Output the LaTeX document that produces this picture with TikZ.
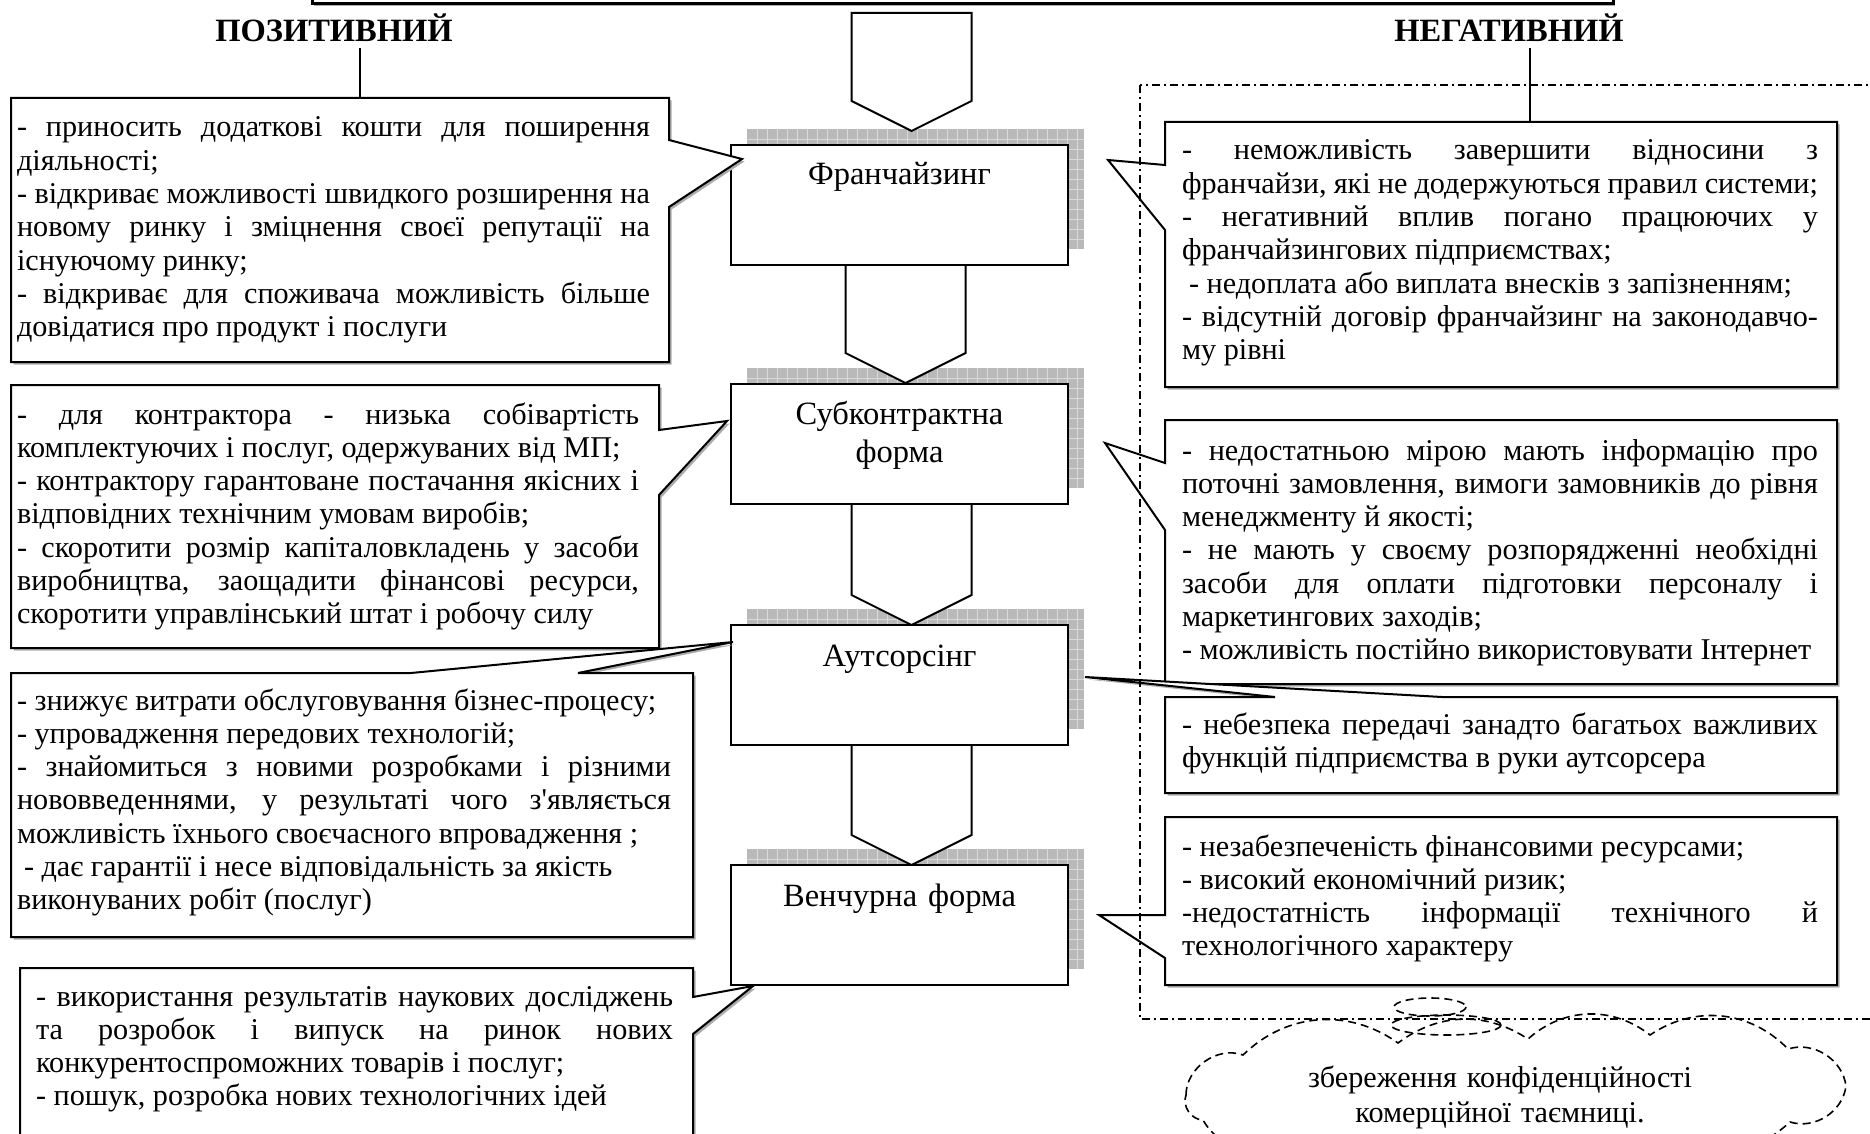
\documentclass[tikz,border=0pt]{standalone}
\usepackage{fontspec}
\setmainfont{Liberation Serif}
\usetikzlibrary{calc,shadows}
\pgfdeclarelayer{back}
\pgfdeclarelayer{middle}
\pgfsetlayers{back,middle,main}

% a fully justified line of a text block
\newcommand\jline[1]{{\spaceskip=0pt\xspaceskip=0pt\makebox[\hsize][s]{#1}}}

% hatched shadow behind a form box (shifted right and up)
\newcommand\formshadow[1]{%
  \begin{scope}[shift={($(#1.north west)+(16,-16)$)}]
    \fill[shadowfill] (0,0) rectangle (337,120);
    \foreach \k in {1,...,33} \draw[shadowgrid] (10*\k,0) -- (10*\k,120);
    \foreach \k in {1,...,11} \draw[shadowgrid] (0,10*\k) -- (337,10*\k);
  \end{scope}}

% downward block arrow from a top centre point to its tip
\newcommand\blockarrow[2]{%
  \draw[barrow] ($(#1)+(-60,0)$) -- ($(#2)+(-60,-30)$) -- (#2)
    -- ($(#2)+(60,-30)$) -- ($(#1)+(60,0)$);}

\begin{document}
\begin{tikzpicture}[x=1pt,y=-1pt,
  every node/.style={inner sep=0pt, outer sep=0pt},
  formbox/.style={draw, line width=2.5pt, fill=white,
    minimum width=337pt, minimum height=120pt, anchor=north west},
  formtext/.style={font=\fontsize{32.5}{38}\selectfont, align=center,
    text width=330pt, anchor=base},
  shadowfill/.style={fill=gray!55},
  shadowgrid/.style={draw=gray!30, line width=0.8pt},
  callout/.style={draw, line width=2pt, fill=white, line join=miter,
    drop shadow={shadow xshift=2.5pt, shadow yshift=-2.5pt, fill=gray!65, opacity=1}},
  bodytext/.style={font=\fontsize{30.2}{33.3}\selectfont, align=justify, anchor=base west},
  barrow/.style={draw, line width=2pt, fill=white, line join=miter},
  head/.style={font=\fontsize{32.5}{36}\selectfont\bfseries, anchor=base},
  conn/.style={line width=1.6pt},
  dashdot/.style={line width=1.5pt, dash pattern=on 8pt off 4pt on 2pt off 4pt},
  cloudline/.style={line width=1.6pt, dash pattern=on 8pt off 5pt},
]
\useasboundingbox (0,0) rectangle (1870,1134);
\clip (0,0) rectangle (1870,1134);

% frame running out of the top edge
\node[draw, line width=3pt, minimum width=1301pt, minimum height=60pt,
  anchor=south west, fill=white,
  drop shadow={shadow xshift=2pt, shadow yshift=-2.5pt, fill=gray!65, opacity=1}]
  (top) at (312,4) {};

% the four forms
\node[formbox] (f1) at (731,145) {};
\node[formbox] (f2) at (731,384) {};
\node[formbox] (f3) at (731,625) {};
\node[formbox] (f4) at (731,865) {};
\node[formtext] (t1) at ($(f1.north)+(0,40)$) {Франчайзинг};
\node[formtext] (t2) at ($(f2.north)+(0,40)$) {Субконтрактна\\форма};
\node[formtext] (t3) at ($(f3.north)+(0,41)$) {Аутсорсінг};
\node[formtext] (t4) at ($(f4.north)+(0,41)$) {Венчурна форма};

\begin{pgfonlayer}{back}
  \formshadow{f1}
  \formshadow{f2}
  \formshadow{f3}
  \formshadow{f4}
\end{pgfonlayer}

\begin{pgfonlayer}{middle}
  \coordinate (a0) at ($(top.south)+(-51,9)$);
  \draw[barrow] ($(a0)+(-60,0)$) -- ($(a0)+(60,0)$) -- ($(a0)+(60,88)$)
    -- ($(a0)+(0,118)$) -- ($(a0)+(-60,88)$) -- cycle;
  \coordinate (a1s) at ($(f1.south)+(6,0)$);
  \coordinate (a1e) at ($(f2.north)+(6,-1)$);
  \coordinate (a2s) at ($(f2.south)+(12,0)$);
  \coordinate (a2e) at ($(f3.north)+(12,0)$);
  \coordinate (a3s) at ($(f3.south)+(12,0)$);
  \coordinate (a3e) at ($(f4.north)+(12,0)$);
  \blockarrow{a1s}{a1e}
  \blockarrow{a2s}{a2e}
  \blockarrow{a3s}{a3e}
\end{pgfonlayer}

% headings
\node[head] (pos) at (334,42) {ПОЗИТИВНИЙ};
\node[head] (neg) at (1509,42) {НЕГАТИВНИЙ};

% callouts, positive side
\draw[callout] (11,98) -- (669,98) -- (669,140) -- (742,159) -- (669,207)
  -- (669,362) -- (11,362) -- cycle;
\draw[callout] (11,385) -- (659,385) -- (659,430) -- (727,421) -- (659,495)
  -- (659,648) -- (11,648) -- cycle;
\draw[callout] (11,673) -- (411,673) -- (733,642) -- (578,673) -- (693,673)
  -- (693,937) -- (11,937) -- cycle;
\draw[callout] (20,968) -- (693,968) -- (693,997) -- (753,986) -- (693,1034)
  -- (693,1180) -- (20,1180) -- cycle;

% callouts, negative side
\draw[callout] (1165,122) -- (1837,122) -- (1837,387) -- (1165,387)
  -- (1165,230) -- (1108,160) -- (1165,165) -- cycle;
\draw[callout] (1165,420) -- (1837,420) -- (1837,684) -- (1165,684)
  -- (1165,530) -- (1105,443) -- (1165,463) -- cycle;
\draw[callout] (1165,697) -- (1275,697) -- (1085,677) -- (1442,697)
  -- (1837,697) -- (1837,793) -- (1165,793) -- cycle;
\draw[callout] (1165,817) -- (1837,817) -- (1837,985) -- (1165,985)
  -- (1165,958) -- (1099,915) -- (1165,915) -- cycle;

% heading connectors
\coordinate (L1in) at (360,98);
\coordinate (R1in) at (1530,122);
\draw[conn] (pos.south -| L1in) ++(0,6) -- (L1in);
\draw[conn] (neg.south -| R1in) ++(0,6) -- (R1in);

% texts, positive side
\node[bodytext, text width=633pt] (l1) at (17,137) {%
\jline{- приносить додаткові кошти для поширення}\\
діяльності;\\
\jline{- відкриває можливості швидкого розширення на}\\
\jline{новому ринку і зміцнення своєї репутації на}\\
існуючому ринку;\\
\jline{- відкриває для споживача можливість більше}\\
довідатися про продукт і послуги};

\node[bodytext, text width=622pt] (l2) at (17,424) {%
\jline{- для контрактора - низька собівартість}\\
комплектуючих і послуг, одержуваних від МП;\\
\jline{- контрактору гарантоване постачання якісних і}\\
відповідних технічним умовам виробів;\\
\jline{- скоротити розмір капіталовкладень у засоби}\\
\jline{виробництва, заощадити фінансові ресурси,}\\
скоротити управлінський штат і робочу силу};

\node[bodytext, text width=654pt] (l3) at (17,710) {%
- знижує витрати обслуговування бізнес-процесу;\\
- упровадження передових технологій;\\
\jline{- знайомиться з новими розробками і різними}\\
\jline{нововведеннями, у результаті чого з\textquotesingle являється}\\
можливість їхнього своєчасного впровадження ;\\
\hspace*{7pt}- дає гарантії і несе відповідальність за якість\\
виконуваних робіт (послуг)};

\node[bodytext, text width=637pt] (l4) at (36,1006) {%
\jline{- використання результатів наукових досліджень}\\
\jline{та розробок і випуск на ринок нових}\\
конкурентоспроможних товарів і послуг;\\
- пошук, розробка нових технологічних ідей};

% texts, negative side
\node[bodytext, text width=636pt] (r1) at (1182,160) {%
\jline{- неможливість завершити відносини з}\\
франчайзи, які не додержуються правил системи;\\
\jline{- негативний вплив погано працюючих у}\\
франчайзингових підприємствах;\\
\hspace*{7pt}- недоплата або виплата внесків з запізненням;\\
\jline{- відсутній договір франчайзинг на законодавчо-}\\
му рівні};

\node[bodytext, text width=636pt] (r2) at (1182,460) {%
\jline{- недостатньою мірою мають інформацію про}\\
\jline{поточні замовлення, вимоги замовників до рівня}\\
менеджменту й якості;\\
\jline{- не мають у своєму розпорядженні необхідні}\\
\jline{засоби для оплати підготовки персоналу і}\\
маркетингових заходів;\\
- можливість постійно використовувати Інтернет};

\node[bodytext, text width=636pt] (r3) at (1182,734) {%
\jline{- небезпека передачі занадто багатьох важливих}\\
функцій підприємства в руки аутсорсера};

\node[bodytext, text width=636pt] (r4) at (1182,856) {%
- незабезпеченість фінансовими ресурсами;\\
- високий економічний ризик;\\
\jline{-недостатність інформації технічного й}\\
технологічного характеру};

% dash-dotted frame around the negative side
\draw[dashdot] (1140,85) rectangle (1890,1019);

% cloud with its small bubbles
\draw[cloudline] (1430,1007) ellipse [x radius=36, y radius=9];
\draw[cloudline] (1446,1025) ellipse [x radius=55, y radius=10];
\draw[cloudline] (1186,1095) to[bend left=55] (1243,1055)
  to[bend left=40] (1398,1043) to[bend left=35] (1528,1039)
  to[bend left=40] (1650,1035) to[bend left=40] (1788,1049)
  to[bend left=50] (1846,1086) to[bend left=50] (1790,1122)
  to[bend left=35] (1650,1140) to[bend left=35] (1480,1144)
  to[bend left=35] (1300,1138) to[bend left=50] (1203,1120)
  to[bend left=55] (1186,1095);
\node[font=\fontsize{30.2}{35}\selectfont, align=center, text width=500pt,
  anchor=base] (clt) at (1500,1087) {збереження конфіденційності\\комерційної таємниці.};
\end{tikzpicture}
\end{document}
